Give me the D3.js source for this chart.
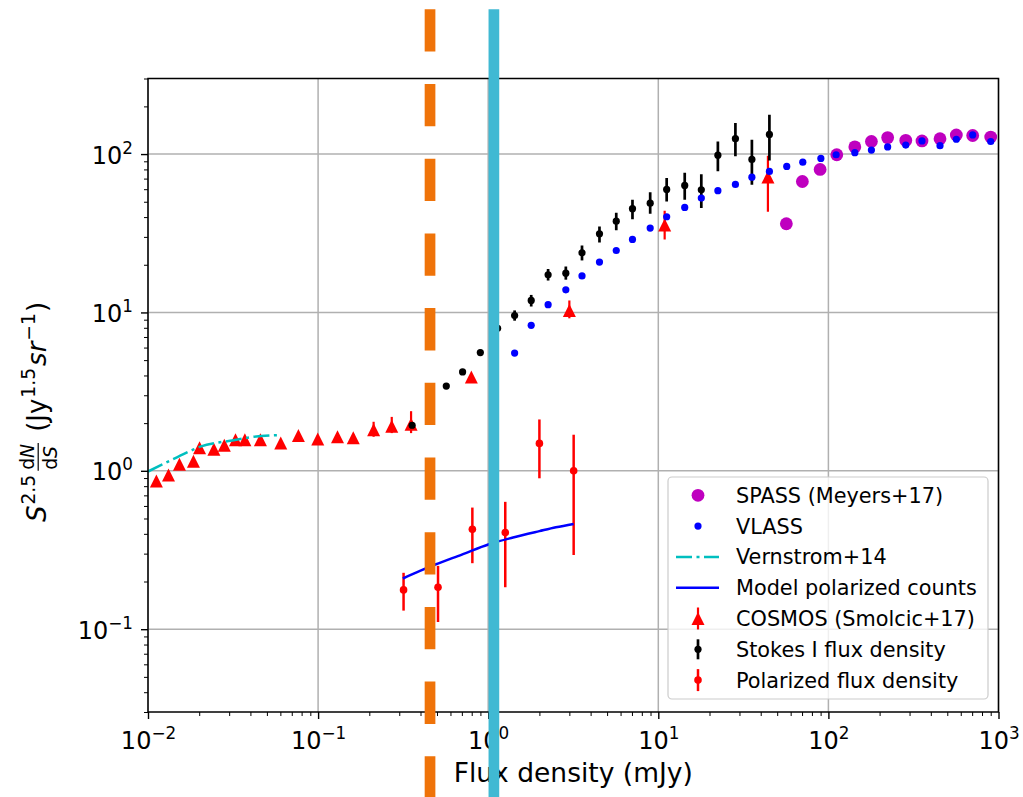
<!DOCTYPE html>
<html>
<head>
<meta charset="utf-8">
<script src="https://cdn.jsdelivr.net/npm/d3@7"></script>
<style>
	body{margin:0;background:#fff;}
	svg{display:block;font-family:"DejaVu Sans",sans-serif;}
	.grid line{stroke:#b0b0b0;stroke-width:1.5;}
	.axis path{display:none;}
	.axis line{stroke:#000;}
	.axis text{font-family:"DejaVu Sans",sans-serif;fill:#000;}
	.spine{fill:none;stroke:#000;stroke-width:1.5;}
</style>
</head>
<body>
<svg id="COUNTS_CHART" width="1023" height="797"></svg>
<script>
/******** data ********/
var spassFlux = [56.6, 70.3, 89.4, 112, 143, 179, 223, 285, 355, 453, 565, 705, 900];
var spassCounts = [36.3, 67.1, 80.0, 99.0, 111, 120, 127, 122, 121, 125, 132, 131, 128];

var vlassFlux = [1.43, 1.79, 2.25, 2.86, 3.56, 4.51, 5.66, 7.05, 8.96, 11.2, 14.3, 17.9, 22.4, 28.4, 35.5, 45.0, 56.9, 70.7, 90.3, 111, 143, 179, 223, 285, 355, 453, 565, 705, 900];
var vlassCounts = [5.54, 8.29, 11.2, 13.9, 17.0, 20.8, 24.6, 28.9, 34.1, 40.2, 46.0, 52.7, 58.7, 64.3, 71.5, 77.7, 83.5, 88.9, 93.8, 99.0, 102, 106, 111, 114, 121, 113, 124, 132, 120];

var vernstromFlux = [0.0100, 0.0149, 0.0203, 0.0319, 0.0419, 0.0574];
var vernstromCounts = [0.99, 1.22, 1.42, 1.56, 1.64, 1.68];

var modelFlux = [0.315, 0.4, 0.489, 0.7, 1.01, 1.4, 2.0, 2.5, 3.18];
var modelCounts = [0.209, 0.234, 0.256, 0.296, 0.344, 0.379, 0.416, 0.440, 0.462];

var cosmosFlux = [0.0112, 0.0132, 0.0153, 0.0185, 0.0201, 0.0244, 0.0281, 0.0327, 0.0371, 0.0458, 0.0603, 0.0766, 0.0995, 0.130, 0.161, 0.212, 0.271, 0.352, 0.796, 3.00, 10.9, 44.1];
var cosmosCounts = [0.863, 0.94, 1.10, 1.15, 1.40, 1.37, 1.45, 1.57, 1.57, 1.57, 1.50, 1.67, 1.59, 1.64, 1.62, 1.82, 1.91, 1.97, 3.91, 10.3, 35.7, 71.6];
var cosmosLo = [0.83, 0.91, 1.06, 1.11, 1.35, 1.32, 1.40, 1.51, 1.51, 1.51, 1.44, 1.60, 1.52, 1.56, 1.54, 1.64, 1.73, 1.73, 3.75, 9.18, 28.9, 43.2];
var cosmosHi = [0.90, 0.98, 1.15, 1.20, 1.46, 1.43, 1.51, 1.64, 1.64, 1.64, 1.57, 1.75, 1.67, 1.73, 1.71, 2.04, 2.19, 2.38, 4.08, 11.9, 43.9, 97.6];

var stokesFlux = [0.357, 0.567, 0.707, 0.899, 1.136, 1.43, 1.79, 2.25, 2.86, 3.56, 4.51, 5.66, 7.05, 8.96, 11.2, 14.3, 17.9, 22.4, 28.4, 35.5, 45.0];
var stokesCounts = [1.94, 3.43, 4.21, 5.58, 7.94, 9.55, 11.9, 17.3, 17.7, 23.8, 31.4, 37.7, 45.2, 49.0, 59.8, 63.4, 59.5, 98.4, 125, 92.5, 133];
var stokesLo = [1.86, 3.29, 4.03, 5.34, 7.60, 8.87, 10.9, 15.9, 16.1, 21.3, 27.6, 33.0, 38.7, 42.0, 50.2, 51.5, 45.6, 78, 97, 64, 91];
var stokesHi = [2.02, 3.57, 4.39, 5.82, 8.28, 10.3, 12.9, 18.8, 19.5, 26.5, 34.9, 42.6, 51.5, 57.5, 70.5, 76.2, 74.7, 120, 157, 123, 177];

var polFlux = [0.318, 0.507, 0.807, 1.26, 2.00, 3.18];
var polCounts = [0.177, 0.184, 0.427, 0.408, 1.49, 1.00];
var polLo = [0.131, 0.111, 0.261, 0.184, 0.897, 0.294];
var polHi = [0.227, 0.251, 0.586, 0.637, 2.11, 1.69];

// flux limits marked by the two vertical lines (orange dashed, cyan)
var cutFlux = [0.455, 1.08];

var xMajorTicks = [0.01, 0.1, 1, 10, 100, 1000];
var xTickExp = ["\u22122", "\u22121", "0", "1", "2", "3"];
var yMajorTicks = [0.1, 1, 10, 100];
var yTickExp = ["\u22121", "0", "1", "2"];
var legendLabels = ["SPASS (Meyers+17)", "VLASS", "Vernstrom+14", "Model polarized counts", "COSMOS (Smolcic+17)", "Stokes I flux density", "Polarized flux density"];
var xLabel = "Flux density (mJy)";

/******** chart ********/
function drawCounts(){
	var left = 148, right = 998.5, top = 78.5, bottom = 712;
	var svg = d3.select("#COUNTS_CHART");

	var x = d3.scaleLog().domain([0.01, 1000]).range([left, right]);
	var y = d3.scaleLog().domain([0.03, 300]).range([bottom, top]);

	var zip = function(a, b, lo, hi){
		return a.map(function(v, i){
			return {x: v, y: b[i], lo: lo ? lo[i] : null, hi: hi ? hi[i] : null};
		});
	};

	// grid
	var grid = svg.append("g").attr("class", "grid");
	grid.selectAll(".gx").data(xMajorTicks).enter().append("line")
		.attr("x1", function(d){ return x(d); }).attr("x2", function(d){ return x(d); })
		.attr("y1", top).attr("y2", bottom);
	grid.selectAll(".gy").data(yMajorTicks).enter().append("line")
		.attr("y1", function(d){ return y(d); }).attr("y2", function(d){ return y(d); })
		.attr("x1", left).attr("x2", right);

	// axes
	var xMinor = x.ticks().filter(function(d){ return xMajorTicks.indexOf(d) < 0; });
	var yMinor = y.ticks().filter(function(d){ return yMajorTicks.indexOf(+d.toPrecision(3)) < 0; });

	svg.append("g").attr("class", "axis")
		.attr("transform", "translate(0," + bottom + ")")
		.call(d3.axisBottom(x).tickValues(xMinor).tickSize(4).tickFormat(""))
		.selectAll("line").attr("stroke-width", 1);
	svg.append("g").attr("class", "axis")
		.attr("transform", "translate(" + left + ",0)")
		.call(d3.axisLeft(y).tickValues(yMinor).tickSize(4).tickFormat(""))
		.selectAll("line").attr("stroke-width", 1);

	var xAxis = svg.append("g").attr("class", "axis")
		.attr("transform", "translate(0," + bottom + ")")
		.call(d3.axisBottom(x).tickValues(xMajorTicks).tickSize(7));
	xAxis.selectAll("line").attr("stroke-width", 1.4);
	xAxis.selectAll("text")
		.attr("y", 37).attr("dy", 0).attr("font-size", "24px")
		.each(function(d, i){
			var t = d3.select(this).text(null);
			t.append("tspan").text("10");
			t.append("tspan").attr("dy", -10).attr("font-size", "16.8px").text(xTickExp[i]);
		});

	var yAxis = svg.append("g").attr("class", "axis")
		.attr("transform", "translate(" + left + ",0)")
		.call(d3.axisLeft(y).tickValues(yMajorTicks).tickSize(7));
	yAxis.selectAll("line").attr("stroke-width", 1.4);
	yAxis.selectAll("text")
		.attr("x", -15).attr("dy", 0).attr("y", 9).attr("font-size", "24px")
		.each(function(d, i){
			var t = d3.select(this).text(null);
			t.append("tspan").text("10");
			t.append("tspan").attr("dy", -10).attr("font-size", "16.8px").text(yTickExp[i]);
		});

	// data layer
	svg.append("clipPath").attr("id", "plotClip").append("rect")
		.attr("x", left).attr("y", top).attr("width", right - left).attr("height", bottom - top);
	var plot = svg.append("g").attr("clip-path", "url(#plotClip)");

	var errBars = function(data, color, width){
		plot.append("g").selectAll("line").data(data).enter().append("line")
			.attr("x1", function(d){ return x(d.x); }).attr("x2", function(d){ return x(d.x); })
			.attr("y1", function(d){ return y(d.lo); }).attr("y2", function(d){ return y(d.hi); })
			.attr("stroke", color).attr("stroke-width", width);
	};
	var dots = function(data, color, r){
		plot.append("g").selectAll("circle").data(data).enter().append("circle")
			.attr("cx", function(d){ return x(d.x); }).attr("cy", function(d){ return y(d.y); })
			.attr("r", r).attr("fill", color);
	};
	var tri = "M0,-6.5L6.5,6.5L-6.5,6.5Z";

	// COSMOS
	var cosmos = zip(cosmosFlux, cosmosCounts, cosmosLo, cosmosHi);
	errBars(cosmos, "#ff0000", 2.2);
	plot.append("g").selectAll("path").data(cosmos).enter().append("path")
		.attr("d", tri).attr("fill", "#ff0000")
		.attr("transform", function(d){ return "translate(" + x(d.x) + "," + y(d.y) + ")"; });

	// Stokes I
	var stokes = zip(stokesFlux, stokesCounts, stokesLo, stokesHi);
	errBars(stokes, "#000", 2.7);
	dots(stokes, "#000", 3.6);

	// polarized
	var pol = zip(polFlux, polCounts, polLo, polHi);
	errBars(pol, "#ff0000", 2.5);
	dots(pol, "#ff0000", 3.8);

	var line = d3.line()
		.x(function(d){ return x(d.x); })
		.y(function(d){ return y(d.y); })
		.curve(d3.curveMonotoneX);

	plot.append("path").datum(zip(modelFlux, modelCounts))
		.attr("d", line).attr("fill", "none").attr("stroke", "#0000ff").attr("stroke-width", 2.5);
	plot.append("path").datum(zip(vernstromFlux, vernstromCounts))
		.attr("d", line).attr("fill", "none").attr("stroke", "#00bfbf").attr("stroke-width", 2.5)
		.attr("stroke-dasharray", "16,4.5,3,4.5");

	dots(zip(spassFlux, spassCounts), "#bf00bf", 6.4);
	dots(zip(vlassFlux, vlassCounts), "#0000ff", 3.6);

	// spines
	svg.append("rect").attr("class", "spine")
		.attr("x", left).attr("y", top).attr("width", right - left).attr("height", bottom - top);

	/******** legend ********/
	var lg = svg.append("g").attr("class", "legend");
	lg.append("rect").attr("x", 668).attr("y", 477).attr("width", 320).attr("height", 222)
		.attr("rx", 4).attr("fill", "#fff").attr("fill-opacity", 0.8)
		.attr("stroke", "#cccccc").attr("stroke-width", 1.2);
	var rows = lg.selectAll(".row").data(legendLabels).enter().append("g")
		.attr("transform", function(d, i){ return "translate(698," + (495.3 + i * 30.8) + ")"; });
	rows.append("text").attr("x", 38).attr("y", 7.5).attr("font-size", "20.8px").attr("fill", "#000")
		.text(function(d){ return d; });
	rows.each(function(d, i){
		var g = d3.select(this);
		if(i == 0){
			g.append("circle").attr("r", 6.4).attr("fill", "#bf00bf");
		}else if(i == 1){
			g.append("circle").attr("r", 3.6).attr("fill", "#0000ff");
		}else if(i == 2){
			g.append("line").attr("x1", -22).attr("x2", 21).attr("stroke", "#00bfbf")
				.attr("stroke-width", 2.5).attr("stroke-dasharray", "16,4.5,3,4.5");
		}else if(i == 3){
			g.append("line").attr("x1", -22).attr("x2", 21).attr("stroke", "#0000ff").attr("stroke-width", 2.5);
		}else if(i == 4){
			g.append("line").attr("y1", -11).attr("y2", 11).attr("stroke", "#ff0000").attr("stroke-width", 2.2);
			g.append("path").attr("d", tri).attr("fill", "#ff0000");
		}else if(i == 5){
			g.append("line").attr("y1", -10).attr("y2", 10).attr("stroke", "#000").attr("stroke-width", 2.7);
			g.append("circle").attr("r", 3.6).attr("fill", "#000");
		}else{
			g.append("line").attr("y1", -11).attr("y2", 11).attr("stroke", "#ff0000").attr("stroke-width", 2.5);
			g.append("circle").attr("r", 3.8).attr("fill", "#ff0000");
		}
	});

	/******** axis labels ********/
	svg.append("text").attr("x", (left + right) / 2).attr("y", 782)
		.attr("text-anchor", "middle").attr("font-size", "26.5px").text(xLabel);

	var F = 26, sub = F * 0.72;
	var yl = svg.append("g").attr("transform", "translate(46,412) rotate(-90)");
	var inner = yl.append("g");
	var cx = 0;
	var piece = function(txt, size, dy, italic){
		var t = inner.append("text").attr("x", cx).attr("y", dy).attr("font-size", size + "px")
			.attr("font-style", italic ? "italic" : null).text(txt);
		cx += t.node().getComputedTextLength();
		return t;
	};
	piece("S", F, 0, true);
	cx += 1;
	piece("2.5", sub, -F * 0.42, false);
	cx += 4;
	var num = inner.append("text").attr("font-size", sub + "px").attr("y", -F * 0.45);
	num.append("tspan").text("d");
	num.append("tspan").attr("font-style", "italic").text("N");
	var den = inner.append("text").attr("font-size", sub + "px").attr("y", F * 0.42);
	den.append("tspan").text("d");
	den.append("tspan").attr("font-style", "italic").text("S");
	var fw = Math.max(num.node().getComputedTextLength(), den.node().getComputedTextLength());
	num.attr("x", cx + 1);
	den.attr("x", cx + 1);
	inner.append("line").attr("x1", cx).attr("x2", cx + fw + 2)
		.attr("y1", -F * 0.3).attr("y2", -F * 0.3).attr("stroke", "#000").attr("stroke-width", 1.2);
	cx += fw + 4 + F * 0.35;
	piece("(Jy", F, 0, false);
	cx += 1;
	piece("1.5", sub, -F * 0.42, false);
	cx += 2;
	piece("sr", F, 0, true);
	cx += 1;
	piece("\u22121", sub, -F * 0.42, false);
	cx += 1;
	piece(")", F, 0, false);
	inner.attr("transform", "translate(" + (-cx / 2) + ",0)");

	/******** flux cut lines ********/
	svg.append("line").attr("x1", x(cutFlux[0])).attr("x2", x(cutFlux[0]))
		.attr("y1", 9.3).attr("y2", 797).attr("stroke", "#ef7309").attr("stroke-width", 10.7)
		.attr("stroke-dasharray", "42.3,32.4");
	svg.append("line").attr("x1", x(cutFlux[1])).attr("x2", x(cutFlux[1]))
		.attr("y1", 9.3).attr("y2", 797).attr("stroke", "#40b9d3").attr("stroke-width", 10.7);
}
drawCounts();
</script>
</body>
</html>
